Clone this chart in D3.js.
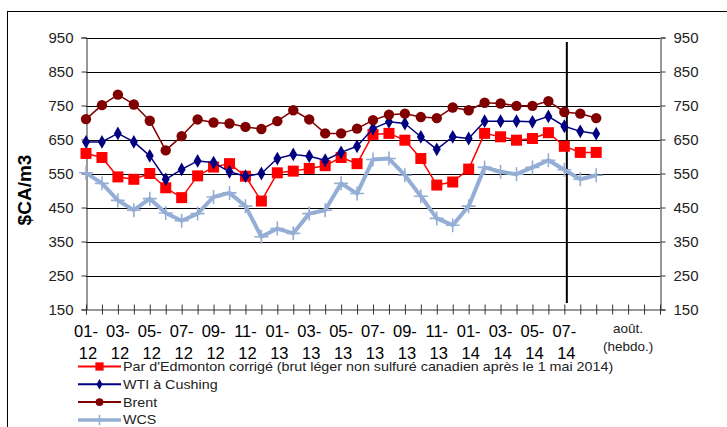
<!DOCTYPE html>
<html>
<head>
<meta charset="utf-8">
<script src="https://cdn.jsdelivr.net/npm/d3@7"></script>
<style>
  body { margin: 0; background: #fff; }
  svg { display: block; font-family: "Liberation Sans", Arial, sans-serif; }
</style>
</head>
<body>
<div id="chart"></div>
<script>
// categories: 31 months then weekly slots for August
const months = ['01-12','02-12','03-12','04-12','05-12','06-12','07-12','08-12','09-12','10-12','11-12','12-12',
  '01-13','02-13','03-13','04-13','05-13','06-13','07-13','08-13','09-13','10-13','11-13','12-13',
  '01-14','02-14','03-14','04-14','05-14','06-14','07-14'];
const weeks = ['w1','w2','w3','w4','w5','w6'];
const weekLabel = ['août.', '(hebdo.)'];

const yTicks = [150, 250, 350, 450, 550, 650, 750, 850, 950];

// values in $CA/m3 (months then the two August weeks)
const parEdmonton = [609,597,540,533,550,508,479,543,569,579,542,469,552,557,565,573,597,
  579,665,668,648,594,516,525,563,668,658,648,653,670,630,612,612];
const wti = [643,643,668,643,602,533,562,587,582,555,542,550,594,606,601,589,612,
  630,682,702,697,658,621,658,653,704,704,704,702,718,689,674,667];
const brent = [710,751,782,753,705,618,660,709,700,697,687,681,704,736,709,668,668,
  682,707,723,726,716,713,744,736,758,756,749,749,763,731,726,713];
const wcs = [552,521,471,442,476,434,411,432,481,493,454,364,388,374,432,442,521,
  491,591,594,545,483,418,398,454,568,555,548,568,589,561,533,545];

const seriesNames = ["Par d'Edmonton corrigé (brut léger non sulfuré canadien après le 1 mai 2014)",
  'WTI à Cushing', 'Brent', 'WCS'];

const categories = months.concat(weeks);

const width = 727, height = 427;
const svg = d3.select('#chart').append('svg')
  .attr('width', width)
  .attr('height', height);

svg.append('rect').attr('width', width).attr('height', height).attr('fill', '#fff');
// outer frame
svg.append('rect')
  .attr('x', 7.5).attr('y', 11.5)
  .attr('width', 760).attr('height', 460)
  .attr('fill', 'none').attr('stroke', '#000');

const x = d3.scalePoint().domain(categories).range([86, 660]);
const y = d3.scaleLinear().domain([150, 950]).range([309.5, 37.5]);

// gridlines
svg.append('g').selectAll('line')
  .data(yTicks.slice(1))
  .join('line')
  .attr('x1', 86).attr('x2', 660)
  .attr('y1', d => Math.round(y(d)) + 0.5)
  .attr('y2', d => Math.round(y(d)) + 0.5)
  .attr('stroke', '#000');

const yLeft = svg.append('g')
  .attr('transform', 'translate(86.5,0)')
  .call(d3.axisLeft(y).tickValues(yTicks).tickSize(5).tickPadding(8));
const yRight = svg.append('g')
  .attr('transform', 'translate(660.5,0)')
  .call(d3.axisRight(y).tickValues(yTicks).tickSize(5).tickPadding(8));
[yLeft, yRight].forEach(g => {
  g.select('.domain').attr('stroke', '#333');
  g.selectAll('.tick line').attr('stroke', '#333');
  g.selectAll('.tick text').attr('font-size', 15).attr('fill', '#222')
    .attr('font-family', '"Liberation Sans", Arial, sans-serif');
});

const xAxis = svg.append('g')
  .attr('transform', 'translate(0,309.5)')
  .call(d3.axisBottom(x).tickSize(5).tickFormat(''));
xAxis.select('.domain').attr('stroke', '#333');
xAxis.selectAll('.tick line').attr('y1', -5).attr('y2', 5).attr('stroke', '#333');

// month labels every two months
const labelMonths = months.filter((m, i) => i % 2 === 0);
const xl = svg.append('g').attr('font-size', 16.5).attr('fill', '#000');
xl.selectAll('text.m1')
  .data(labelMonths)
  .join('text')
  .attr('class', 'm1')
  .attr('x', d => x(d))
  .attr('y', 337)
  .attr('text-anchor', 'middle')
  .text(d => d.split('-')[0] + '-');
xl.selectAll('text.m2')
  .data(labelMonths)
  .join('text')
  .attr('class', 'm2')
  .attr('x', d => x(d) + 2)
  .attr('y', 358.5)
  .attr('text-anchor', 'middle')
  .text(d => d.split('-')[1]);
svg.append('g').selectAll('text')
  .data(weekLabel)
  .join('text')
  .attr('x', x('w4'))
  .attr('y', (d, i) => 333 + i * 18)
  .attr('text-anchor', 'middle')
  .attr('font-size', 13.5)
  .attr('fill', '#222')
  .text(d => d);

// vertical separator
svg.append('line')
  .attr('x1', x('07-14') + 2.5).attr('x2', x('07-14') + 2.5)
  .attr('y1', 42).attr('y2', 303)
  .attr('stroke', '#000').attr('stroke-width', 2);

// y title
svg.append('text')
  .attr('transform', 'translate(31,190) rotate(-90)')
  .attr('text-anchor', 'middle')
  .attr('font-size', 19)
  .attr('font-weight', 'bold')
  .text('$CA/m3');

const styles = [
  { values: parEdmonton, color: '#ff0000', width: 1.5, marker: 'square' },
  { values: wti, color: '#000080', width: 1.5, marker: 'diamond' },
  { values: brent, color: '#800000', width: 1.5, marker: 'circle' },
  { values: wcs, color: '#95aed6', width: 4, marker: 'cross' }
];

function drawMarker(g, type, color, cx, cy, big) {
  const s = big ? 1 : 0.75;
  if (type === 'square') {
    g.append('rect').attr('x', cx - 5.5 * s).attr('y', cy - 5.5 * s)
      .attr('width', 11 * s).attr('height', 11 * s).attr('fill', color);
  } else if (type === 'diamond') {
    g.append('path').attr('d', d3.symbol(d3.symbolDiamond, 55 * s * s)())
      .attr('transform', `translate(${cx},${cy})`).attr('fill', color);
  } else if (type === 'circle') {
    g.append('circle').attr('cx', cx).attr('cy', cy).attr('r', 5.2 * s).attr('fill', color);
  } else {
    g.append('path')
      .attr('d', `M${cx - 7 * s},${cy}H${cx + 7 * s}M${cx},${cy - 7 * s}V${cy + 7 * s}`)
      .attr('stroke', color).attr('stroke-width', 1.6);
  }
}

const line = d3.line()
  .x((d, i) => x(categories[i]))
  .y(d => y(d));

styles.forEach(st => {
  const g = svg.append('g');
  g.append('path')
    .datum(st.values)
    .attr('d', line)
    .attr('fill', 'none')
    .attr('stroke', st.color)
    .attr('stroke-width', st.width)
    .attr('stroke-linejoin', 'round');
  st.values.forEach((v, i) => drawMarker(g, st.marker, st.color, x(categories[i]), y(v), true));
});

// legend
const legend = svg.append('g');
styles.forEach((st, i) => {
  const ly = 366.5 + i * 17.8;
  const g = legend.append('g');
  g.append('line').attr('x1', 78).attr('x2', 121).attr('y1', ly).attr('y2', ly)
    .attr('stroke', st.color).attr('stroke-width', st.width === 4 ? 3.5 : 2);
  drawMarker(g, st.marker, st.color, 99.5, ly, false);
  g.append('text')
    .attr('transform', `translate(123,${ly + 4.5}) scale(1.06,1)`)
    .attr('font-size', 13.5).attr('fill', '#222')
    .text(seriesNames[i]);
});
</script>
</body>
</html>
